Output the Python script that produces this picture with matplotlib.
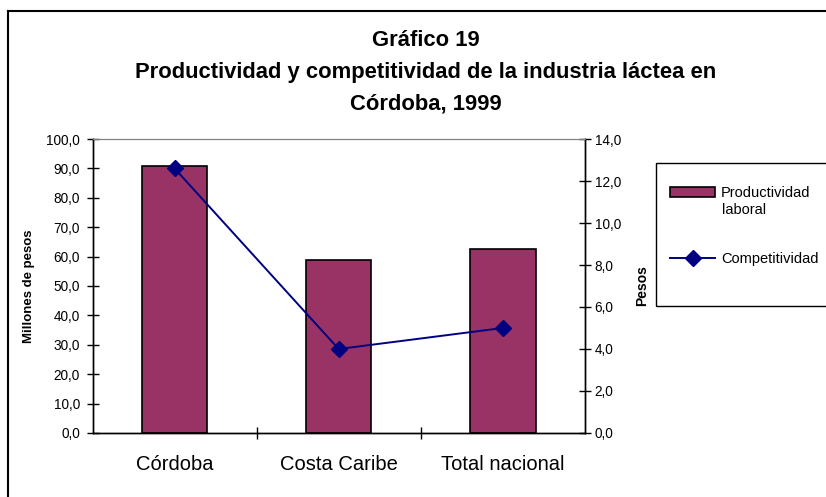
import matplotlib
matplotlib.use("Agg")
import matplotlib.pyplot as plt
from matplotlib.ticker import FuncFormatter, FixedLocator
from matplotlib.patches import Rectangle
from matplotlib.lines import Line2D

plt.rcParams['font.family'] = ['Liberation Sans', 'DejaVu Sans']

categorias = ["Córdoba", "Costa Caribe", "Total nacional"]
productividad = [90.8, 58.7, 62.6]      # millones de pesos
competitividad = [12.6, 4.0, 5.0]       # pesos
titulo = "Gráfico 19\nProductividad y competitividad de la industria láctea en\nCórdoba, 1999"

def coma(v, pos):
    return f"{v:.1f}".replace(".", ",")

fig = plt.figure(figsize=(8.26, 4.97), dpi=100)
ax = fig.add_axes([0.112, 0.1288, 0.596, 0.5915])
ax2 = ax.twinx()

x = list(range(len(categorias)))
barras = ax.bar(x, productividad, width=0.4, color="#993366", edgecolor="black",
                linewidth=1.2, label="Productividad", zorder=2)
linea, = ax2.plot(x, competitividad, color="#000080", marker="D", markersize=8,
                  linewidth=1.4, label="Competitividad", zorder=3)

ax.set_xlim(-0.5, 2.5)
ax.set_ylim(0, 100)
ax2.set_ylim(0, 14)
ax.set_yticks(range(0, 101, 10))
ax2.set_yticks(range(0, 15, 2))
ax.yaxis.set_major_formatter(FuncFormatter(coma))
ax2.yaxis.set_major_formatter(FuncFormatter(coma))

ax.set_xticks(x)
ax.set_xticklabels(categorias, fontsize=14.5)
ax.xaxis.set_minor_locator(FixedLocator([0.5, 1.5]))
ax.tick_params(axis="x", which="major", length=0, pad=16)
ax.tick_params(axis="x", which="minor", direction="inout", length=9, width=1)
ax.tick_params(axis="y", direction="inout", length=8, width=1, labelsize=9.8, pad=5)
ax2.tick_params(axis="y", direction="inout", length=8, width=1, labelsize=9.8, pad=3)

for a in (ax, ax2):
    a.spines["top"].set_color("#808080")
    a.spines["left"].set_linewidth(1)
    a.spines["right"].set_linewidth(1)
    a.spines["bottom"].set_linewidth(1)
    a.patch.set_alpha(0)

ax.set_ylabel("Millones de pesos", fontsize=9.5, fontweight="bold", labelpad=8)
ax2.set_ylabel("Pesos", fontsize=10, fontweight="bold", labelpad=10)

fig.text(0.515, 1 - 72 / 497, titulo, ha="center", va="center", fontsize=15.8,
         fontweight="bold", linespacing=1.66)

# marco exterior
fig.add_artist(Line2D([8 / 826, 8 / 826], [0, 1 - 10.5 / 497], color="black", lw=1.5))
fig.add_artist(Line2D([8 / 826, 1], [1 - 10.5 / 497, 1 - 10.5 / 497], color="black", lw=1.5))

# leyenda
fig.add_artist(Rectangle((656 / 826, 1 - 306 / 497), 0.3, 143 / 497,
                         transform=fig.transFigure, fill=False, edgecolor="black", lw=1))
fig.legend(handles=[barras, linea], loc="upper left",
           bbox_to_anchor=(670 / 826, 1 - 186 / 497), frameon=False, fontsize=10.5,
           handlelength=3.1, handletextpad=0.4, labelspacing=3.6, borderpad=0,
           borderaxespad=0)
fig.text(722 / 826, 1 - 210 / 497, "laboral", fontsize=10.5, va="center", ha="left")

fig.savefig("out.png", dpi=100)
